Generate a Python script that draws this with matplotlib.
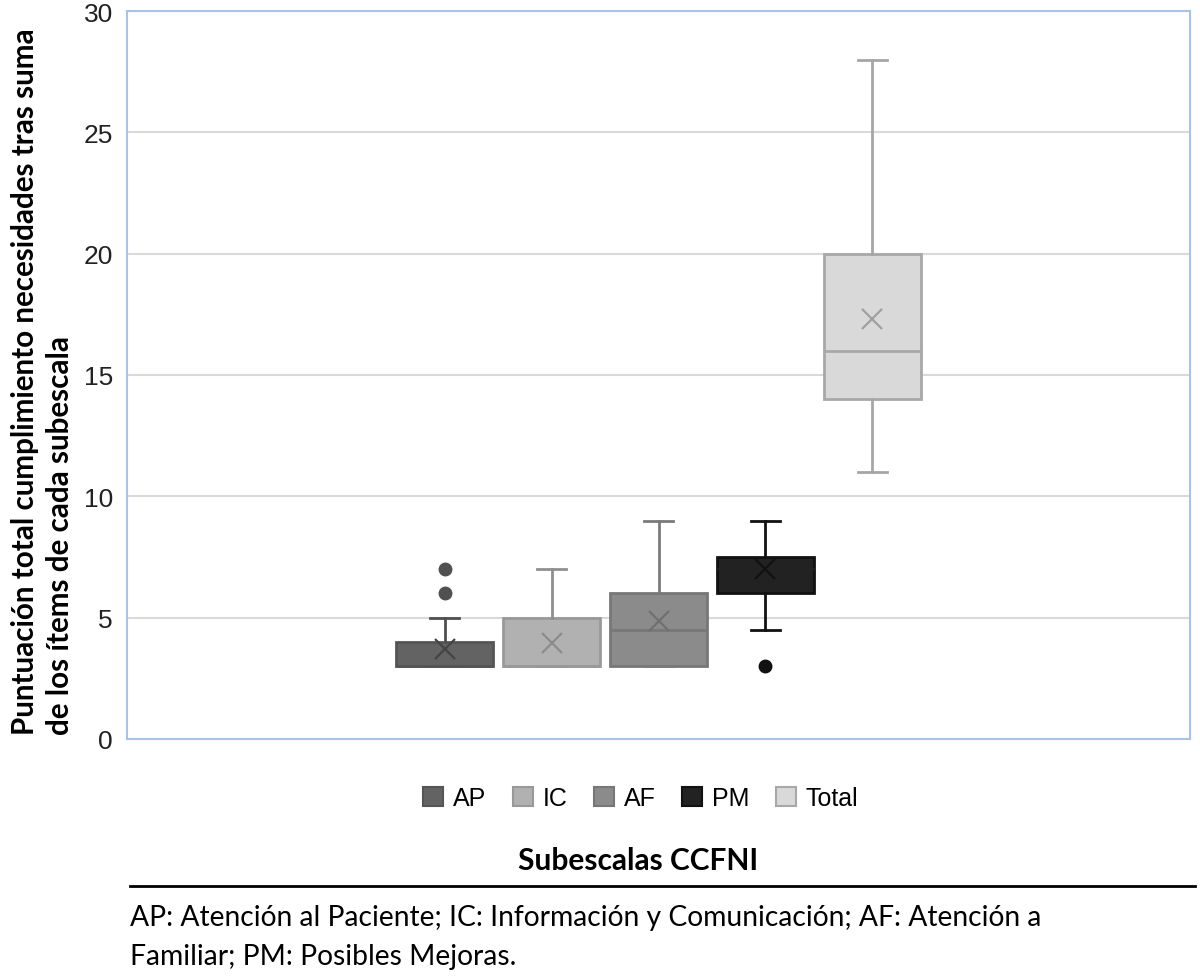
import matplotlib
matplotlib.use("Agg")
import matplotlib.pyplot as plt
from matplotlib.patches import Patch
from matplotlib.lines import Line2D

categories = ["AP", "IC", "AF", "PM", "Total"]
q1 = [3, 3, 3, 6, 14]
medians = [3, 3, 4.5, 7, 16]
q3 = [4, 5, 6, 7.5, 20]
whis_lo = [3, 3, 3, 4.5, 11]
whis_hi = [5, 7, 9, 9, 28]
means = [3.7, 3.95, 4.85, 7.0, 17.3]
fliers = [[6, 7], [], [], [3], []]

fill_colors = ["#636363", "#b1b1b1", "#8b8b8b", "#222222", "#d9d9d9"]
edge_colors = ["#555555", "#999999", "#777777", "#111111", "#a8a8a8"]
median_colors = ["#555555", "#999999", "#777777", "#222222", "#a8a8a8"]
line_colors = ["#505050", "#8f8f8f", "#7a7a7a", "#111111", "#a6a6a6"]
mean_colors = ["#444444", "#8c8c8c", "#707070", "#111111", "#a0a0a0"]

yticks = [0, 5, 10, 15, 20, 25, 30]

fig = plt.figure(figsize=(12, 9.78), dpi=100)
ax = fig.add_axes([0.1058, 0.2434, 0.8859, 0.7443])

positions = list(range(len(categories)))
for i in positions:
    st = [dict(med=medians[i], q1=q1[i], q3=q3[i], whislo=whis_lo[i],
               whishi=whis_hi[i], fliers=fliers[i], mean=means[i])]
    ax.bxp(st, positions=[i], widths=0.9, patch_artist=True, showmeans=False,
           showcaps=True,
           boxprops=dict(facecolor=fill_colors[i], edgecolor=edge_colors[i], linewidth=2),
           medianprops=dict(color=median_colors[i], linewidth=2),
           whiskerprops=dict(color=line_colors[i], linewidth=2),
           capprops=dict(color=line_colors[i], linewidth=2),
           capwidths=0.27,
           flierprops=dict(marker="o", markerfacecolor=line_colors[i],
                           markeredgecolor=line_colors[i], markersize=9),
           zorder=3)
    ax.plot([i], [means[i]], marker="x", markersize=14, markeredgewidth=1.6,
            color=mean_colors[i], linestyle="none", zorder=4)

ax.set_xlim(2 - 4.97, 2 + 4.97)
ax.set_ylim(0, 30)
ax.set_yticks(yticks)
ax.set_yticklabels([str(t) for t in yticks], fontsize=19, family="Liberation Sans", color="#222222")
ax.set_xticks([])
ax.tick_params(axis="y", length=0, pad=10)
ax.yaxis.grid(True, color="#d9d9d9", linewidth=1.5, zorder=0)
ax.set_axisbelow(True)
for s in ax.spines.values():
    s.set_color("#a9c3e6")
    s.set_linewidth(1.5)

handles = [Patch(facecolor=fill_colors[i], edgecolor=edge_colors[i], linewidth=1.5, label=categories[i])
           for i in positions]
fig.legend(handles=handles, loc="center", bbox_to_anchor=(0.534, 0.183), ncol=5, frameon=False,
           prop=dict(family="Liberation Sans", size=18), handlelength=0.8, handleheight=0.8,
           handletextpad=0.4, columnspacing=1.05)

fig.text(0.532, 0.120, "Subescalas CCFNI", ha="center", va="center",
         fontsize=21.5, fontweight="bold", family="Lato")

fig.add_artist(Line2D([130 / 1200, 1195 / 1200], [1 - 887 / 978, 1 - 887 / 978],
                      color="black", linewidth=2))

fig.text(130 / 1200, 1 - 918 / 978,
         "AP: Atención al Paciente; IC: Información y Comunicación; AF: Atención a",
         ha="left", va="center", fontsize=20.3, family="Lato")
fig.text(130 / 1200, 1 - 957 / 978, "Familiar; PM: Posibles Mejoras.",
         ha="left", va="center", fontsize=20.3, family="Lato")

fig.text(25 / 1200, 1 - 735 / 978,
         "Puntuación total cumplimiento necesidades tras suma",
         rotation=90, ha="center", va="bottom", fontsize=21.3, fontweight="bold", family="Lato")
fig.text(60 / 1200, 1 - 735 / 978,
         "de los ítems de cada subescala",
         rotation=90, ha="center", va="bottom", fontsize=21.3, fontweight="bold", family="Lato")

fig.savefig("out.png", dpi=100)
